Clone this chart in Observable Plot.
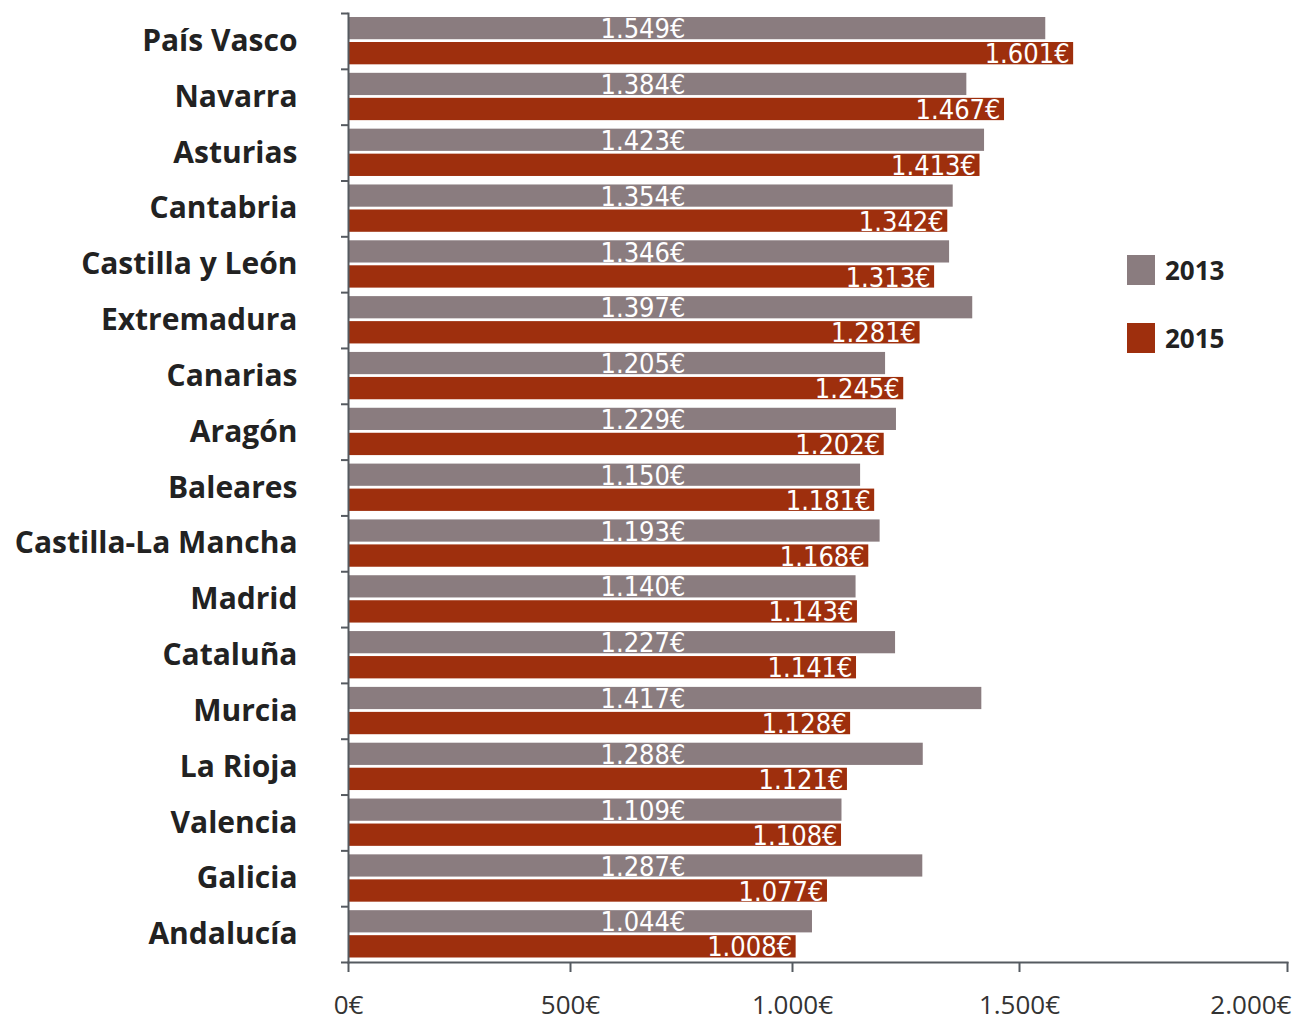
<!DOCTYPE html>
<html>
<head>
<meta charset="utf-8">
<script src="https://cdn.jsdelivr.net/npm/d3@7"></script>
<script src="https://cdn.jsdelivr.net/npm/@observablehq/plot@0.6"></script>
<style>
  html, body { margin: 0; padding: 0; background: #fff; }
  #wrap { position: relative; width: 1298px; height: 1021px; }
  .legend { position: absolute; left: 1127px; font-family: "Open Sans", sans-serif; font-weight: bold; font-size: 26px; color: #222; display: flex; align-items: center; }
  .legend .sw { width: 28px; height: 30px; margin-right: 10px; }
</style>
</head>
<body>
<div id="wrap"></div>
<script>
const regions = ["País Vasco","Navarra","Asturias","Cantabria","Castilla y León","Extremadura","Canarias","Aragón","Baleares","Castilla-La Mancha","Madrid","Cataluña","Murcia","La Rioja","Valencia","Galicia","Andalucía"];
const values2013 = [1549,1384,1423,1354,1346,1397,1205,1229,1150,1193,1140,1227,1417,1288,1109,1287,1044];
const values2015 = [1601,1467,1413,1342,1313,1281,1245,1202,1181,1168,1143,1141,1128,1121,1108,1077,1008];
const years = ["2013","2015"];
const yearColors = ["#8a7c7f","#9e2f0d"];
const xTicks = [0,500,1000,1500,2000];

const rows = regions.flatMap((r, i) => [
  {region: r, year: "2013", value: values2013[i]},
  {region: r, year: "2015", value: values2015[i]}
]);
const r2013 = rows.filter(d => d.year === "2013");
const r2015 = rows.filter(d => d.year === "2015");

const loc = d3.formatLocale({decimal: ",", thousands: ".", grouping: [3], currency: ["", "€"]});
const num = loc.format(",d");
const euro = v => num(v) + "€";

const barFont = {fontFamily: "'Liberation Sans Narrow', 'DejaVu Sans Condensed', sans-serif", fontSize: 27, fill: "white"};
const axisColor = "#555a60";

const chart = Plot.plot({
  width: 1298,
  height: 1021,
  marginLeft: 348,
  marginRight: 11,
  marginTop: 13,
  marginBottom: 59,
  style: {fontFamily: "'Open Sans', sans-serif", background: "white"},
  x: {type: "linear", domain: [0, 1000, 1500, 2000], range: [348, 792, 1019, 1287]},
  y: {domain: regions, padding: 0, round: false},
  color: {domain: years, range: yearColors},
  marks: [
    Plot.barX(r2013, {y: "region", x: "value", fill: "year", insetTop: 4, insetBottom: 29.6}),
    Plot.barX(r2015, {y: "region", x: "value", fill: "year", insetTop: 29, insetBottom: 4.5}),
    Plot.text(r2013, {y: "region", text: d => euro(d.value), frameAnchor: "left", textAnchor: "start", dx: 252, dy: -11.8, ...barFont, style: "letter-spacing:1.5px"}),
    Plot.text(r2015, {y: "region", x: "value", text: d => euro(d.value), textAnchor: "end", dx: -4, dy: 13.2, ...barFont, style: "letter-spacing:1.5px"}),
    Plot.frame({anchor: "left", stroke: axisColor, strokeWidth: 2}),
    Plot.frame({anchor: "bottom", stroke: axisColor, strokeWidth: 2}),
    Plot.axisY({tickSize: 0, tickPadding: 51, fontSize: 30, fontWeight: "bold", fill: "#222", label: null}),
    Plot.axisY({tickSize: 7, fill: "none", dy: -27.9, stroke: axisColor, strokeWidth: 2, label: null}),
    Plot.axisY({ticks: [regions[regions.length - 1]], tickSize: 7, fill: "none", dy: 27.9, stroke: axisColor, strokeWidth: 2, label: null}),
    Plot.axisX({ticks: xTicks, tickSize: 10, fill: "none", stroke: axisColor, strokeWidth: 2, label: null}),
    Plot.axisX({ticks: xTicks.slice(0, -1), tickSize: 0, tickPadding: 33, fontSize: 26, fill: "#333", tickFormat: euro, label: null}),
    Plot.axisX({ticks: xTicks.slice(-1), tickSize: 0, tickPadding: 33, fontSize: 26, fill: "#333", tickFormat: euro, textAnchor: "end", dx: 4, label: null})
  ]
});

const wrap = document.getElementById("wrap");
wrap.appendChild(chart);
const legendTops = [252, 320];
years.forEach((y, i) => {
  const item = document.createElement("div");
  item.className = "legend";
  item.style.top = legendTops[i] + "px";
  const sw = document.createElement("div");
  sw.className = "sw";
  sw.style.background = yearColors[i];
  const t = document.createElement("span");
  t.textContent = y;
  item.appendChild(sw);
  item.appendChild(t);
  wrap.appendChild(item);
});
</script>
</body>
</html>
